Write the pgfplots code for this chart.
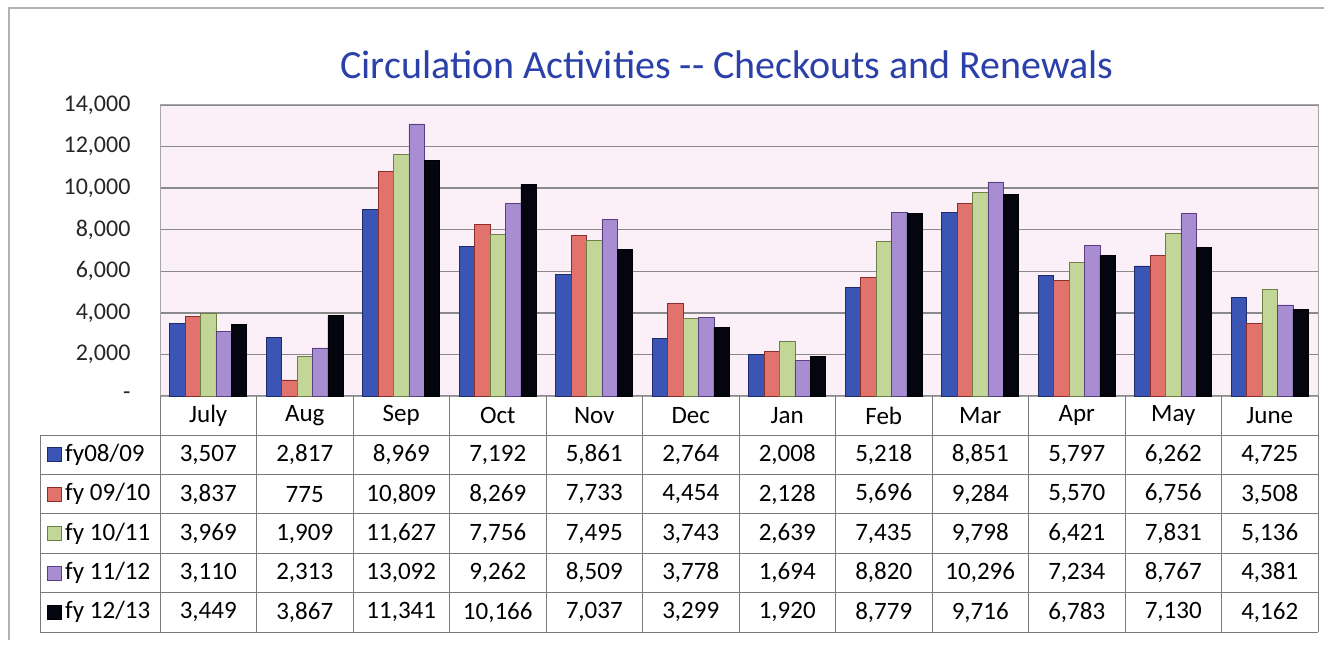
\documentclass[border=0pt]{standalone}
\usepackage{pgfplots}
\pgfplotsset{compat=1.18}
\usepackage{pgfplotstable}
\usepackage{fontspec}
\setmainfont{Carlito}
\definecolor{cBlue}{HTML}{3A55B4}
\definecolor{cBlueE}{HTML}{1E2A6B}
\definecolor{cRed}{HTML}{E2736C}
\definecolor{cRedE}{HTML}{8B2E2A}
\definecolor{cGreen}{HTML}{C2D797}
\definecolor{cGreenE}{HTML}{6E7E45}
\definecolor{cPurple}{HTML}{A98DD2}
\definecolor{cPurpleE}{HTML}{5A3F80}
\definecolor{cBlack}{HTML}{05050F}
\definecolor{cTitle}{HTML}{2B40A8}
\definecolor{cBg}{HTML}{FBF0F8}
\definecolor{cGrid}{HTML}{8A8A8A}
\definecolor{cTab}{HTML}{7A7A7A}

\pgfplotstableread{
x a b c d e
0 3507 3837 3969 3110 3449
1 2817 775 1909 2313 3867
2 8969 10809 11627 13092 11341
3 7192 8269 7756 9262 10166
4 5861 7733 7495 8509 7037
5 2764 4454 3743 3778 3299
6 2008 2128 2639 1694 1920
7 5218 5696 7435 8820 8779
8 8851 9284 9798 10296 9716
9 5797 5570 6421 7234 6783
10 6262 6756 7831 8767 7130
11 4725 3508 5136 4381 4162
}\circdata

\begin{document}
\begin{tikzpicture}[x=1pt,y=1pt]
\useasboundingbox (0,0) rectangle (1324,646);
% outer frame
\draw[color=black!30, line width=1.2pt] (9,6) -- (9,638) -- (1324,638);
% title
\node[text=cTitle, font=\fontsize{40}{46}\selectfont] at (727,581) {Circulation Activities {-}{-} Checkouts and Renewals};
\begin{axis}[
  at={(160pt,250pt)}, anchor=south west,
  width=1158pt, height=291pt, scale only axis,
  xmin=-0.5, xmax=11.5, ymin=0, ymax=14000,
  ybar=0pt, bar width=15.4pt,
  xtick=\empty,
  scaled y ticks=false,
  ytick={0,2000,4000,6000,8000,10000,12000,14000},
  yticklabels={{-},{2,000},{4,000},{6,000},{8,000},{10,000},{12,000},{14,000}},
  yticklabel style={font=\fontsize{24}{28}\selectfont, text=black!85, xshift=-26pt},
  major tick length=0pt,
  ymajorgrids, grid style={cGrid, line width=1.3pt},
  axis background/.style={fill=cBg},
  axis line style={black!35, line width=1pt},
  clip=false,
]
\addplot[fill=cBlue, draw=cBlueE, line width=0.6pt] table[x=x,y=a]{\circdata};
\addplot[fill=cRed, draw=cRedE, line width=0.6pt] table[x=x,y=b]{\circdata};
\addplot[fill=cGreen, draw=cGreenE, line width=0.6pt] table[x=x,y=c]{\circdata};
\addplot[fill=cPurple, draw=cPurpleE, line width=0.6pt] table[x=x,y=d]{\circdata};
\addplot[fill=cBlack, draw=black, line width=0.6pt] table[x=x,y=e]{\circdata};
\end{axis}
% data table
\def\colw{96.5}
\begin{scope}[font=\fontsize{25}{29}\selectfont]
% grid lines
\draw[cTab, line width=1pt] (160,250) -- (160,14);
\foreach \k in {1,...,12} {\draw[cTab, line width=1pt] ({160+\k*\colw},250) -- ({160+\k*\colw},14);}
\draw[cTab, line width=1pt] (160,211) -- (1318,211);
\draw[cTab, line width=1pt] (40,211) -- (160,211);
\foreach \r in {1,...,5} {\draw[cTab, line width=1pt] (40,{211-\r*39.4}) -- (1318,{211-\r*39.4});}
\draw[cTab, line width=1pt] (40,211) -- (40,14);
% header
\foreach \m [count=\i from 0] in {July,Aug,Sep,Oct,Nov,Dec,Jan,Feb,Mar,Apr,May,June}
  {\node at ({160+(\i+0.5)*\colw},230.5) {\m};}
% legend labels
\foreach \lab/\fc/\ec [count=\r from 0] in {{fy08/09}/cBlue/cBlueE, {fy 09/10}/cRed/cRedE, {fy 10/11}/cGreen/cGreenE, {fy 11/12}/cPurple/cPurpleE, {fy 12/13}/cBlack/black}
{
  \pgfmathsetmacro{\yc}{211-(\r+0.5)*39.4}
  \filldraw[fill=\fc, draw=\ec, line width=0.6pt] (47,\yc-7) rectangle (61,\yc+7);
  \node[anchor=west, inner sep=0pt] at (65,\yc) {\lab};
}
% values
\foreach \row [count=\r from 0] in {
 {{3,507},{2,817},{8,969},{7,192},{5,861},{2,764},{2,008},{5,218},{8,851},{5,797},{6,262},{4,725}},
 {{3,837},{775},{10,809},{8,269},{7,733},{4,454},{2,128},{5,696},{9,284},{5,570},{6,756},{3,508}},
 {{3,969},{1,909},{11,627},{7,756},{7,495},{3,743},{2,639},{7,435},{9,798},{6,421},{7,831},{5,136}},
 {{3,110},{2,313},{13,092},{9,262},{8,509},{3,778},{1,694},{8,820},{10,296},{7,234},{8,767},{4,381}},
 {{3,449},{3,867},{11,341},{10,166},{7,037},{3,299},{1,920},{8,779},{9,716},{6,783},{7,130},{4,162}}}
{
  \pgfmathsetmacro{\yc}{211-(\r+0.5)*39.4}
  \foreach \v [count=\i from 0] in \row
    {\node at ({160+(\i+0.5)*\colw},\yc) {\v};}
}
\end{scope}
\end{tikzpicture}
\end{document}
